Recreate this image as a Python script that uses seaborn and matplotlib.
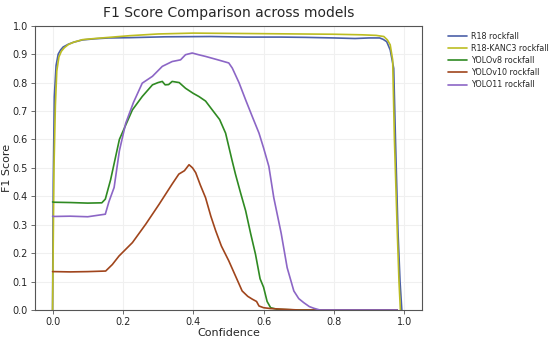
import numpy as np
import pandas as pd
import matplotlib
matplotlib.use("Agg")
import matplotlib.pyplot as plt
import seaborn as sns

models = ["R18 rockfall", "R18-KANC3 rockfall", "YOLOv8 rockfall", "YOLOv10 rockfall", "YOLO11 rockfall"]
colors = ["#4b60a8", "#bcbd22", "#2f8a22", "#a0451c", "#8c66c6"]

r18_x = [0.0, 0.002, 0.005, 0.01, 0.016, 0.023, 0.03, 0.045, 0.06, 0.085, 0.12, 0.16, 0.22, 0.32, 0.45,
         0.55, 0.65, 0.72, 0.8, 0.86, 0.9, 0.93, 0.94, 0.95, 0.96, 0.97, 0.975, 0.982, 0.988, 0.993]
r18_y = [0.0, 0.45, 0.75, 0.86, 0.9, 0.915, 0.925, 0.935, 0.942, 0.95, 0.954, 0.957, 0.958, 0.961, 0.962,
         0.96, 0.96, 0.959, 0.957, 0.955, 0.957, 0.957, 0.952, 0.944, 0.915, 0.85, 0.6, 0.28, 0.1, 0.0]

kanc_x = [0.0, 0.004, 0.008, 0.012, 0.018, 0.025, 0.033, 0.045, 0.06, 0.085, 0.12, 0.16, 0.22, 0.3, 0.4,
          0.5, 0.6, 0.7, 0.8, 0.88, 0.92, 0.942, 0.952, 0.96, 0.967, 0.972, 0.98, 0.985, 0.989]
kanc_y = [0.0, 0.5, 0.72, 0.84, 0.89, 0.91, 0.922, 0.934, 0.942, 0.951, 0.955, 0.959, 0.965, 0.971, 0.974,
          0.973, 0.972, 0.971, 0.97, 0.968, 0.966, 0.962, 0.95, 0.933, 0.88, 0.6, 0.28, 0.1, 0.0]

v8_x = [0.0, 0.005, 0.05, 0.1, 0.14, 0.15, 0.165, 0.19, 0.227, 0.255, 0.284, 0.3, 0.312, 0.32, 0.33, 0.34,
        0.36, 0.378, 0.4, 0.416, 0.435, 0.454, 0.475, 0.492, 0.51, 0.52, 0.535, 0.549, 0.563, 0.577, 0.59,
        0.6, 0.61, 0.62, 0.64, 0.7, 0.8, 0.9, 0.98]
v8_y = [0.38, 0.379, 0.378, 0.376, 0.377, 0.39, 0.458, 0.6, 0.704, 0.751, 0.792, 0.8, 0.804, 0.792, 0.793,
        0.804, 0.8, 0.78, 0.762, 0.751, 0.735, 0.704, 0.67, 0.622, 0.528, 0.478, 0.41, 0.349, 0.27, 0.196,
        0.11, 0.08, 0.03, 0.008, 0.002, 0.0, 0.0, 0.0, 0.0]

v10_x = [0.0, 0.005, 0.05, 0.1, 0.151, 0.17, 0.189, 0.227, 0.265, 0.303, 0.34, 0.359, 0.375, 0.388, 0.398,
         0.407, 0.42, 0.435, 0.45, 0.464, 0.48, 0.501, 0.52, 0.539, 0.555, 0.568, 0.58, 0.587, 0.6, 0.62,
         0.7, 0.8, 0.9, 0.98]
v10_y = [0.135, 0.135, 0.134, 0.135, 0.137, 0.16, 0.19, 0.237, 0.302, 0.372, 0.443, 0.478, 0.49, 0.511, 0.5,
         0.483, 0.44, 0.395, 0.33, 0.278, 0.225, 0.173, 0.12, 0.067, 0.048, 0.038, 0.03, 0.014, 0.008, 0.005,
         0.0, 0.0, 0.0, 0.0]

v11_x = [0.0, 0.005, 0.05, 0.1, 0.15, 0.16, 0.175, 0.19, 0.208, 0.23, 0.255, 0.284, 0.312, 0.34, 0.364,
         0.378, 0.397, 0.415, 0.435, 0.47, 0.501, 0.511, 0.53, 0.549, 0.568, 0.587, 0.6, 0.615, 0.629, 0.65,
         0.667, 0.686, 0.7, 0.714, 0.73, 0.743, 0.76, 0.85, 0.95, 0.98]
v11_y = [0.33, 0.329, 0.33, 0.328, 0.337, 0.38, 0.431, 0.56, 0.657, 0.73, 0.798, 0.822, 0.857, 0.874, 0.88,
         0.898, 0.904, 0.898, 0.892, 0.88, 0.869, 0.851, 0.8, 0.739, 0.68, 0.622, 0.57, 0.505, 0.395, 0.27,
         0.149, 0.067, 0.04, 0.026, 0.012, 0.006, 0.0, 0.0, 0.0, 0.0]

xs = [r18_x, kanc_x, v8_x, v10_x, v11_x]
ys = [r18_y, kanc_y, v8_y, v10_y, v11_y]
frames = []
for m, x, y in zip(models, xs, ys):
    frames.append(pd.DataFrame({"Confidence": x, "F1": y, "Model": m}))
df = pd.concat(frames, ignore_index=True)

sns.set_style("whitegrid", {"grid.color": "#f0f0f0", "axes.edgecolor": "#555555",
                            "xtick.bottom": True, "ytick.left": True})
plt.rcParams["font.family"] = ["DejaVu Sans"]

fig = plt.figure(figsize=(5.5, 3.42), dpi=100)
ax = fig.add_axes([0.0636, 0.0936, 0.7034, 0.8312])
sns.lineplot(data=df, x="Confidence", y="F1", hue="Model", hue_order=models,
             palette=dict(zip(models, colors)), linewidth=1.2, ax=ax, sort=False,
             estimator=None)
ax.set_xlim(-0.05, 1.05)
ax.set_ylim(0, 1.0)
ax.set_yticks(np.arange(0, 1.01, 0.1))
ax.set_xticks([0.0, 0.2, 0.4, 0.6, 0.8, 1.0])
ax.tick_params(axis="both", labelsize=7, length=3, width=0.6, color="#555555", pad=2)
ax.set_xlabel("Confidence", fontsize=8, labelpad=1)
ax.set_ylabel("F1 Score", fontsize=8)
ax.yaxis.set_label_coords(-0.06, 0.5)
ax.set_title("F1 Score Comparison across models", fontsize=10, pad=6)
for s in ax.spines.values():
    s.set_linewidth(0.8)
ax.legend(loc="upper left", bbox_to_anchor=(1.049, 1.005), frameon=False, fontsize=5.8,
          handlelength=2.3, handletextpad=0.6, labelspacing=0.4)
fig.savefig("out.png", dpi=100)
